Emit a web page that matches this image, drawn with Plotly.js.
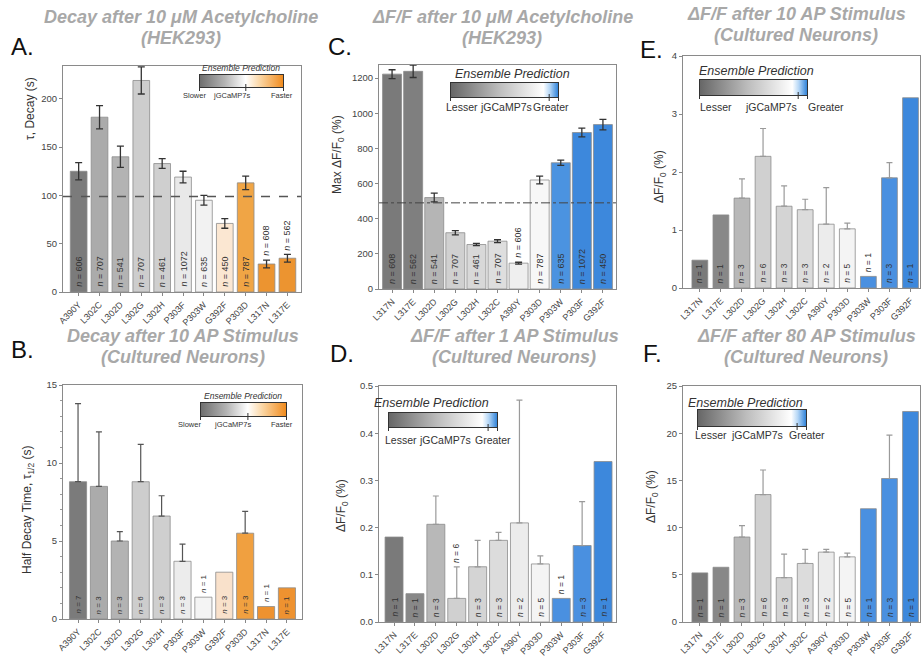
<!DOCTYPE html>
<html><head><meta charset="utf-8">
<script src="https://cdn.plot.ly/plotly-3.0.1.min.js"></script>
<style>html,body{margin:0;padding:0;background:#fff}#chart{width:923px;height:661px}</style>
</head><body><div id="chart"></div>
<script>
// ---------- DATA ----------
// Panel A: Decay after 10 uM Acetylcholine (HEK293)
const catsA = ['A390Y','L302C','L302D','L302G','L302H','P303F','P303W','G392F','P303D','L317N','L317E'];
const tauDecayA = [125,181,140,219,133,119,95,71,113,29,35];
const tauErrA   = [9,12,11,14,5,6,5,5,7,4,4];
const nA        = [606,707,541,707,461,1072,635,450,787,608,562];
const baselineA = 99;
// Panel B: Decay after 10 AP stimulus (cultured neurons)
const catsB = ['A390Y','L302C','L302D','L302G','L302H','P303F','P303W','G392F','P303D','L317N','L317E'];
const halfDecayB = [8.8,8.5,5.0,8.8,6.6,3.7,1.4,3.0,5.5,0.8,2.0];
const halfErrB   = [5.0,3.5,0.6,2.4,1.3,1.1,null,null,1.4,null,null];
const nB         = [7,3,3,6,3,3,1,3,3,1,1];
// Panel C: dF/F after 10 uM Acetylcholine (HEK293)
const catsC = ['L317N','L317E','L302D','L302G','L302H','L302C','A390Y','P303D','P303W','P303F','G392F'];
const maxDffC = [1222,1238,520,320,253,272,147,620,718,890,935];
const maxErrC = [25,35,25,12,6,8,5,22,15,25,30];
const nC      = [608,562,541,707,461,707,606,787,635,1072,450];
const baselineC = 490;
// Panel D: dF/F after 1 AP stimulus
const catsD = ['L317N','L317E','L302D','L302G','L302H','L302C','A390Y','P303D','P303W','P303F','G392F'];
const dff1AP = [0.18,0.06,0.207,0.05,0.117,0.173,0.21,0.123,0.05,0.162,0.34];
const err1AP = [null,null,0.06,0.067,0.056,0.017,0.26,0.017,null,0.093,null];
const nD     = [1,1,3,6,3,3,2,5,1,3,1];
// Panel E: dF/F after 10 AP stimulus
const catsE = ['L317N','L317E','L302D','L302G','L302H','L302C','A390Y','P303D','P303W','P303F','G392F'];
const dff10AP = [0.48,1.26,1.55,2.27,1.41,1.35,1.10,1.02,0.20,1.90,3.28];
const err10AP = [null,null,0.33,0.48,0.35,0.18,0.63,0.10,null,0.26,null];
const nE      = [1,1,3,6,3,3,2,5,1,3,1];
// Panel F: dF/F after 80 AP stimulus
const catsF = ['L317N','L317E','L302D','L302G','L302H','L302C','A390Y','P303D','P303W','P303F','G392F'];
const dff80AP = [5.2,5.8,9.0,13.5,4.7,6.2,7.4,6.9,12.0,15.2,22.3];
const err80AP = [null,null,1.2,2.6,2.5,1.5,0.3,0.4,null,4.6,null];
const nF      = [1,1,3,6,3,3,2,5,1,3,1];

// ---------- STYLES ----------
const colorsA = ['#7b7b7b','#ababab','#b3b3b3','#cdcdcd','#cfcfcf','#e9e9e9','#f2f2f2','#fbe7d2','#f0a545','#ec9430','#ec9430'];
const colorsB = ['#7b7b7b','#ababab','#b3b3b3','#cdcdcd','#cfcfcf','#ececec','#f4f4f4','#f9e1cb','#f0a040','#ee9230','#ee9230'];
const colorsC = ['#7a7a7a','#7f7f7f','#b5b5b5','#d0d0d0','#d8d8d8','#dedede','#efefef','#f7f7f7','#4b93e0','#3d88dc','#3d88dc'];
const colorsDEF = ['#7a7a7a','#888888','#b8b8b8','#d0d0d0','#d4d4d4','#dcdcdc','#ececec','#f4f4f4','#4a90e0','#4a90e0','#3d88dc'];

const W = 923, H = 661;
const FONT = 'Liberation Sans, Arial, sans-serif';

const specs = [
  {cats:catsA, vals:tauDecayA, err:tauErrA, n:nA, colors:colorsA, sym:true,  box:[63,301,66,292],  yr:[0,234],  dtick:50,  xr:[-0.75,10.65], w:0.8,  errColor:'#333', ytitle:'τ, Decay (s)', yt:[30,108], nsize:9,
   title:['Decay after 10 μM Acetylcholine','(HEK293)'], tpos:[181,17,38], letter:'A.', lpos:[22,46]},
  {cats:catsB, vals:halfDecayB, err:halfErrB, n:nB, colors:colorsB, sym:false, box:[63,302,385,619], yr:[0,15],   dtick:5, minor:1, xr:[-0.72,10.72], w:0.82, errColor:'#555', ytitle:'Half Decay Time, τ<sub>1/2</sub> (s)', yt:[28,510], nsize:8,
   title:['Decay after 10 AP Stimulus','(Cultured Neurons)'], tpos:[183,336,357], letter:'B.', lpos:[22,349]},
  {cats:catsC, vals:maxDffC, err:maxErrC, n:nC, colors:colorsC, sym:true,  box:[379,616,65,289],  yr:[0,1274], dtick:200, xr:[-0.62,10.62], w:0.9,  errColor:'#333', ytitle:'Max ΔF/F<sub>0</sub> (%)', yt:[338,155], nsize:9,
   title:['ΔF/F after 10 μM Acetylcholine','(HEK293)'], tpos:[502,17,38], letter:'C.', lpos:[340,46]},
  {cats:catsD, vals:dff1AP, err:err1AP, n:nD, colors:colorsDEF, sym:false, box:[379,616,386,622], yr:[0,0.5], dtick:0.1, fmt:'.1f', xr:[-0.72,10.62], w:0.86, errColor:'#9a9a9a', ytitle:'ΔF/F<sub>0</sub> (%)', yt:[342,506], nsize:8.5,
   title:['ΔF/F after 1 AP Stimulus','(Cultured Neurons)'], tpos:[514,336,357], letter:'D.', lpos:[342,353]},
  {cats:catsE, vals:dff10AP, err:err10AP, n:nE, colors:colorsDEF, sym:false, box:[683,920,56,288], yr:[0,4], dtick:1, xr:[-0.8,10.45], w:0.75, errColor:'#9a9a9a', ytitle:'ΔF/F<sub>0</sub> (%)', yt:[660,177], nsize:8.5,
   title:['ΔF/F after 10 AP Stimulus','(Cultured Neurons)'], tpos:[796,14,35], letter:'E.', lpos:[651,50]},
  {cats:catsF, vals:dff80AP, err:err80AP, n:nF, colors:colorsDEF, sym:false, box:[683,920,386,622], yr:[0,25], dtick:5, xr:[-0.8,10.45], w:0.75, errColor:'#9a9a9a', ytitle:'ΔF/F<sub>0</sub> (%)', yt:[652,497], nsize:8.5,
   title:['ΔF/F after 80 AP Stimulus','(Cultured Neurons)'], tpos:[806,336,357], letter:'F.', lpos:[652,353]}
];

// Ensemble prediction colour keys
const grayOrange = [[0,'#6e6e6e'],[0.3,'#b3b3b3'],[0.55,'#ffffff'],[0.72,'#fbd6a4'],[1,'#f08a1c']];
const grayBlue   = [[0,'#666666'],[0.45,'#bdbdbd'],[0.86,'#ffffff'],[0.92,'#b4d6f6'],[1,'#2a7fd8']];
const keys = [
  {box:[199,284,74,88],  stops:grayOrange, tick:0.55, title:[241,68,8.5],  labels:[['Slower',194],['jGCaMP7s',232],['Faster',282]], ly:96,  lsize:7.5},
  {box:[200,287,402,417],stops:grayOrange, tick:0.55, title:[243,396,8.5], labels:[['Slower',189],['jGCaMP7s',233],['Faster',282]], ly:424, lsize:7.5},
  {box:[450,559,82,98],  stops:grayBlue,   tick:0.91, title:[512,74,12.5], labels:[['Lesser',462],['jGCaMP7s',506],['Greater',551]], ly:107, lsize:10.5},
  {box:[388,498,412,428],stops:grayBlue,   tick:0.91, title:[431,403,12.5],labels:[['Lesser',401],['jGCaMP7s',445],['Greater',493]], ly:440, lsize:10.5},
  {box:[699,808,79,96],  stops:grayBlue,   tick:0.91, title:[756,71,12.5], labels:[['Lesser',716],['jGCaMP7s',771],['Greater',826]], ly:107, lsize:10.5},
  {box:[697,807,409,427],stops:grayBlue,   tick:0.91, title:[745,403,12.5],labels:[['Lesser',711],['jGCaMP7s',757],['Greater',807]], ly:435, lsize:10.5}
];

// ---------- BUILD ----------
const traces = [], annotations = [], shapes = [], images = [];
const layout = {width:W, height:H, margin:{l:0,r:0,t:0,b:0}, showlegend:false,
  paper_bgcolor:'#ffffff', plot_bgcolor:'#ffffff', font:{family:FONT, color:'#444'},
  annotations, shapes, images};

const nan = e => (e == null ? NaN : e);

specs.forEach((s, i) => {
  const k = i === 0 ? '' : String(i + 1);
  const xa = 'x' + k, ya = 'y' + k;
  const [l, r, t, b] = s.box;
  layout['xaxis' + k] = {domain:[l / W, r / W], anchor:ya, type:'category', range:s.xr,
    tickangle:-45, tickfont:{size:9, color:'#444'}, ticks:'outside', ticklen:3, tickcolor:'#888',
    showline:true, linecolor:'#8a8a8a', linewidth:1, mirror:true, showgrid:false, zeroline:false, fixedrange:true};
  const yax = {domain:[1 - b / H, 1 - t / H], anchor:xa, range:s.yr, tick0:0, dtick:s.dtick,
    tickformat:s.fmt || '', tickfont:{size:9.5, color:'#444'}, ticks:'outside', ticklen:3, tickcolor:'#888',
    showline:true, linecolor:'#8a8a8a', linewidth:1, mirror:true, showgrid:false, zeroline:false, fixedrange:true};
  if (s.minor) yax.minor = {dtick:s.minor, ticks:'outside', ticklen:2, tickcolor:'#999', showgrid:false};
  layout['yaxis' + k] = yax;

  const errY = s.sym
    ? {type:'data', array:s.err.map(nan), symmetric:true, visible:true, color:s.errColor, thickness:1.3, width:3.5}
    : {type:'data', array:s.err.map(nan), arrayminus:s.err.map(e => (e == null ? NaN : 0)), symmetric:false, visible:true, color:s.errColor, thickness:1.2, width:3};

  traces.push({type:'bar', x:s.cats, y:s.vals, xaxis:xa, yaxis:ya, width:s.w,
    marker:{color:s.colors, line:{color:'#8c8c8c', width:0.8}}, error_y:errY, hoverinfo:'skip'});

  // n labels
  s.cats.forEach((c, j) => {
    const label = 'n = ' + s.n[j];
    const barPx = s.vals[j] / (s.yr[1] - s.yr[0]) * (b - t);
    const inside = barPx >= label.length * s.nsize * 0.49 + 5;
    annotations.push({xref:xa, yref:ya, x:j, y:inside ? 0 : s.vals[j] + (s.err[j] || 0),
      xanchor:'center', yanchor:'bottom', yshift:inside ? 3 : 2, textangle:-90, showarrow:false,
      text:'<i>n</i> = ' + s.n[j], font:{size:s.nsize, color:'#333', family:FONT}});
  });

  // titles (two lines)
  s.title.forEach((line, li) => {
    annotations.push({xref:'paper', yref:'paper', x:s.tpos[0] / W, y:1 - s.tpos[1 + li] / H, xanchor:'center', yanchor:'middle',
      text:line, showarrow:false, font:{size:18, color:'#a8a8a8', family:FONT, weight:'bold', style:'italic'}});
  });
  // panel letters
  annotations.push({xref:'paper', yref:'paper', x:s.lpos[0] / W, y:1 - s.lpos[1] / H, xanchor:'center', yanchor:'middle',
    text:s.letter, showarrow:false, font:{size:24, color:'#111', family:FONT}});
  // y-axis titles
  annotations.push({xref:'paper', yref:'paper', x:s.yt[0] / W, y:1 - s.yt[1] / H, xanchor:'center', yanchor:'middle',
    textangle:-90, text:s.ytitle, showarrow:false, font:{size:12, color:'#333', family:FONT}});
});

// reference (jGCaMP7s) lines
shapes.push({type:'line', xref:'x domain', yref:'y', x0:0, x1:1, y0:baselineA, y1:baselineA,
  line:{color:'#555', width:1.5, dash:'dash'}});
shapes.push({type:'line', xref:'x3 domain', yref:'y3', x0:0, x1:1, y0:baselineC, y1:baselineC,
  line:{color:'#444', width:1, dash:'dashdot'}});

// colour keys
keys.forEach(kd => {
  const [l, r, t, b] = kd.box;
  const w = r - l, h = b - t, hh = h + 3;
  const tx = (w * kd.tick).toFixed(1);
  const svg = `<svg xmlns="http://www.w3.org/2000/svg" width="${w}" height="${hh}" viewBox="0 0 ${w} ${hh}">` +
    `<defs><linearGradient id="g" x1="0" y1="0" x2="1" y2="0">` +
    kd.stops.map(([o, c]) => `<stop offset="${o}" stop-color="${c}"/>`).join('') +
    `</linearGradient></defs><rect x="0.5" y="0.5" width="${w - 1}" height="${h - 1}" fill="url(#g)" stroke="#333" stroke-width="1"/>` +
    `<line x1="${tx}" y1="${h - 4}" x2="${tx}" y2="${hh}" stroke="#333" stroke-width="1"/>` +
    `<line x1="0.5" y1="${h - 1}" x2="0.5" y2="${hh}" stroke="#333" stroke-width="1"/>` +
    `<line x1="${w - 0.5}" y1="${h - 1}" x2="${w - 0.5}" y2="${hh}" stroke="#333" stroke-width="1"/></svg>`;
  images.push({source:'data:image/svg+xml;charset=utf-8,' + encodeURIComponent(svg), xref:'paper', yref:'paper',
    x:l / W, y:1 - t / H, sizex:w / W, sizey:hh / H, xanchor:'left', yanchor:'top', sizing:'stretch', layer:'above'});
  annotations.push({xref:'paper', yref:'paper', x:kd.title[0] / W, y:1 - kd.title[1] / H, xanchor:'center', yanchor:'middle',
    text:'Ensemble Prediction', showarrow:false, font:{size:kd.title[2], color:'#333', family:FONT, style:'italic'}});
  kd.labels.forEach(([txt, x]) => {
    annotations.push({xref:'paper', yref:'paper', x:x / W, y:1 - kd.ly / H, xanchor:'center', yanchor:'middle',
      text:txt, showarrow:false, font:{size:kd.lsize, color:'#333', family:FONT}});
  });
});

Plotly.newPlot('chart', traces, layout, {displayModeBar:false, staticPlot:true});
</script>
</body></html>
